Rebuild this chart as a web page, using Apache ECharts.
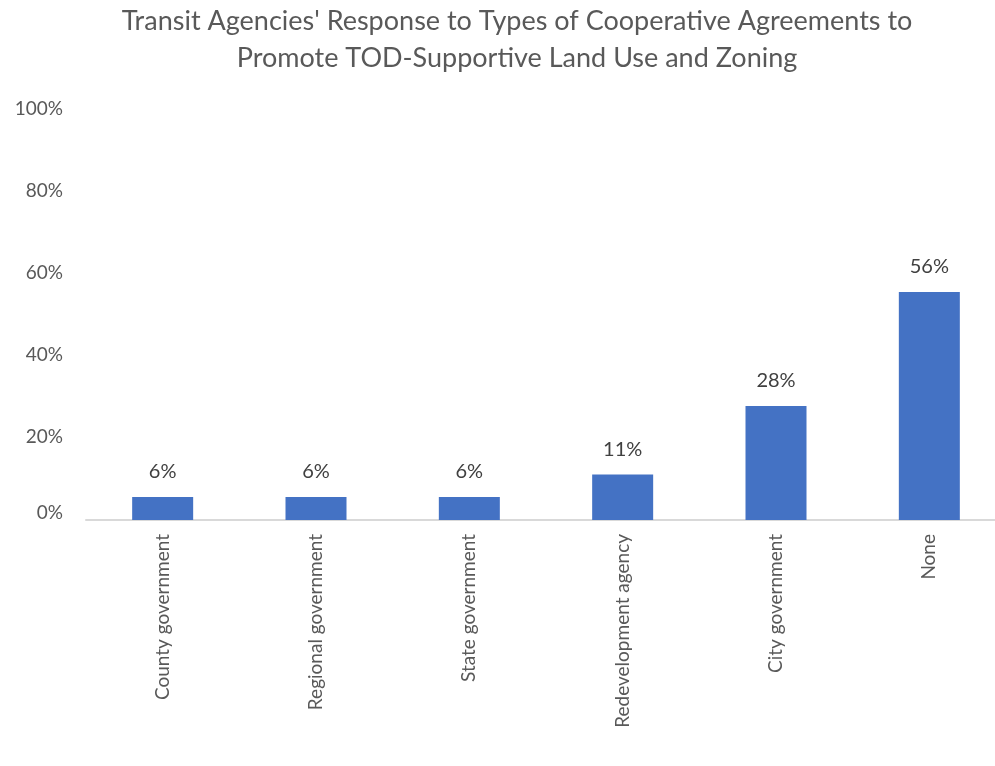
<!DOCTYPE html>
<html>
<head>
<meta charset="utf-8">
<script src="https://cdn.jsdelivr.net/npm/echarts@6/dist/echarts.min.js"></script>
<style>
  html, body { margin: 0; padding: 0; background: #fff; }
  #chart { width: 995px; height: 766px; }
</style>
</head>
<body>
<div id="chart"></div>
<script>
  var categories = ['County government', 'Regional government', 'State government', 'Redevelopment agency', 'City government', 'None']
  var shares = [0.056, 0.056, 0.056, 0.111, 0.278, 0.556]
  var yTicks = [0, 0.2, 0.4, 0.6, 0.8, 1]

  var font = 'Lato, "Open Sans", sans-serif'
  var chart = echarts.init(document.getElementById('chart'))
  chart.setOption({
    animation: false,
    title: {
      text: "Transit Agencies' Response to Types of Cooperative Agreements to\nPromote TOD-Supportive Land Use and Zoning",
      left: 512,
      textAlign: 'center',
      top: -2,
      textStyle: {
        fontFamily: font,
        fontSize: 27,
        fontWeight: 'normal',
        color: '#595959',
        lineHeight: 37
      }
    },
    grid: {
      left: 86,
      top: 110,
      width: 920,
      height: 410,
      outerBoundsMode: 'none'
    },
    xAxis: {
      type: 'category',
      data: categories,
      axisLine: { lineStyle: { color: '#d9d9d9', width: 2 } },
      axisTick: { show: false },
      axisLabel: {
        rotate: 90,
        interval: 0,
        margin: 14,
        fontFamily: font,
        fontSize: 19,
        color: '#595959'
      }
    },
    yAxis: {
      type: 'value',
      min: yTicks[0],
      max: yTicks[yTicks.length - 1],
      interval: 0.2,
      splitLine: { show: false },
      axisLine: { show: false },
      axisTick: { show: false },
      axisLabel: {
        margin: 23,
        fontFamily: font,
        fontSize: 19,
        color: '#595959',
        formatter: function (v) {
          var s = Math.round(v * 100) + '%'
          // excel nudges the bottom label up off the axis line
          return v === 0 ? '{z|' + s + '}' : '{n|' + s + '}'
        },
        rich: {
          z: { fontFamily: font, fontSize: 19, color: '#595959', padding: [0, 0, 14, 0] },
          n: { fontFamily: font, fontSize: 19, color: '#595959', padding: [0, 0, 3, 0] }
        }
      }
    },
    series: [{
      type: 'bar',
      data: shares,
      barWidth: 61,
      itemStyle: { color: '#4472c4' },
      label: {
        show: true,
        position: 'top',
        distance: 15,
        fontFamily: font,
        fontSize: 20,
        color: '#404040',
        formatter: function (p) { return Math.round(p.value * 100) + '%' }
      }
    }]
  })
</script>
</body>
</html>
